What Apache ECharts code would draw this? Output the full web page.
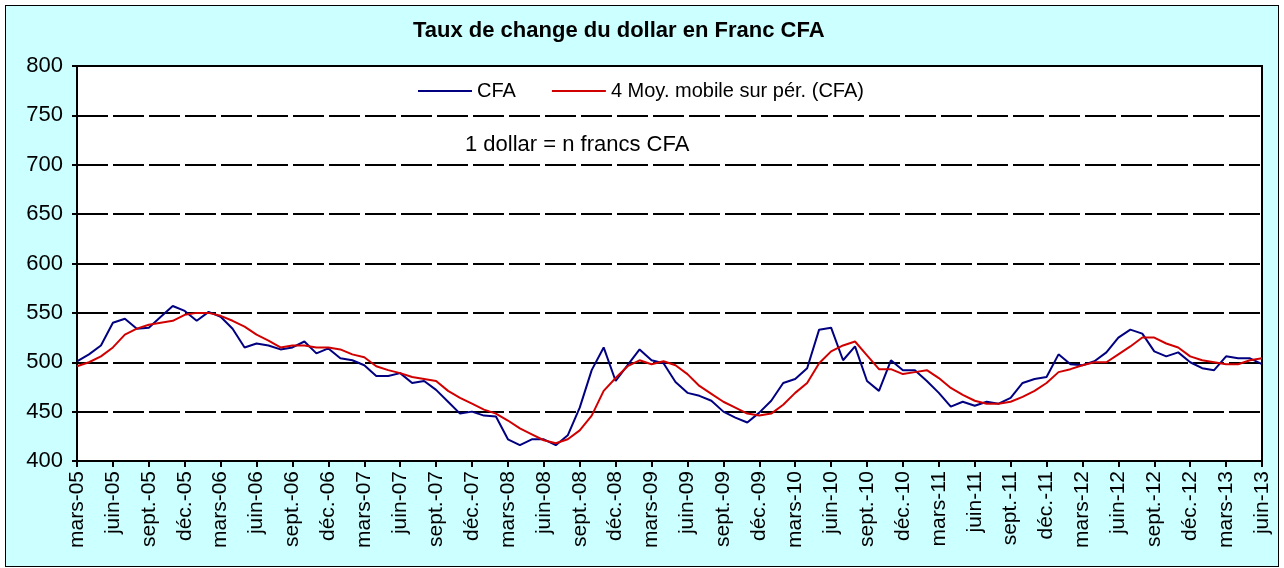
<!DOCTYPE html>
<html>
<head>
<meta charset="utf-8">
<title>Taux de change du dollar en Franc CFA</title>
<script src="https://cdn.jsdelivr.net/npm/echarts@6/dist/echarts.min.js"></script>
<style>
  html, body { margin: 0; padding: 0; background: #fff; }
  #frame {
    position: absolute; left: 5px; top: 5px;
    width: 1272px; height: 560px;
    border: 1px solid #000; background: #ccffff;
  }
  #chart { position: absolute; left: 0; top: 0; width: 1284px; height: 568px; }
</style>
</head>
<body>
<div id="frame"></div>
<div id="chart"></div>
<script>
// mois affichés sur l'axe (un libellé par trimestre)
const monthNames = ['janv.', 'févr.', 'mars', 'avr.', 'mai', 'juin', 'juil.', 'août', 'sept.', 'oct.', 'nov.', 'déc.']
const startYear = 2005
const startMonth = 2 // mars
const nMonths = 100  // mars-05 .. juin-13

// 1 dollar = n francs CFA (mensuel)
const cfa = [
  501, 508, 517, 540, 544, 534, 535, 546, 557, 552,
  542, 551, 546, 534, 515, 519, 517, 513, 515, 521,
  509, 514, 504, 502, 497, 486, 486, 489, 479, 481,
  472, 460, 448, 450, 446, 445, 422, 416, 422, 422,
  416, 426, 454, 492, 515, 481, 497, 513, 502, 499,
  480, 469, 466, 461, 450, 444, 439, 449, 461, 479,
  483, 494, 533, 535, 502, 516, 481, 471, 502, 492,
  492, 481, 469, 455, 460, 456, 460, 458, 464, 479,
  483, 485, 508, 498, 497, 501, 510, 525, 533, 529,
  511, 506, 510, 500, 494, 492, 506, 504, 504, 498
]

// moyenne mobile sur 4 périodes
const movingAvg = [
  496, 500, 506, 515, 528, 534, 538, 540, 542, 548,
  550, 550, 547, 542, 536, 528, 522, 515, 517, 517,
  515, 515, 513, 508, 505, 496, 492, 489, 485, 483,
  481, 471, 464, 458, 452, 448, 441, 433, 427, 421,
  418, 422, 431, 446, 471, 484, 496, 502, 498, 501,
  497, 488, 476, 468, 460, 454, 448, 446, 448, 457,
  469, 479, 499, 511, 517, 521, 507, 493, 493, 488,
  490, 492, 484, 474, 467, 461, 458, 458, 460, 465,
  471, 479, 490, 493, 497, 500, 500, 508, 516, 525,
  525, 519, 515, 506, 502, 500, 498, 498, 502, 504
]

const categories = []
for (let i = 0; i < nMonths; i++) {
  const m = (startMonth + i) % 12
  const y = startYear + Math.floor((startMonth + i) / 12)
  categories.push(monthNames[m] + '-' + String(y).slice(2))
}

const font = 'Liberation Sans, Arial, sans-serif'
const chart = echarts.init(document.getElementById('chart'))

chart.setOption({
  backgroundColor: 'transparent',
  animation: false,
  textStyle: { fontFamily: font, color: '#000' },
  title: {
    text: 'Taux de change du dollar en Franc CFA',
    left: 413,
    top: 20,
    padding: 0,
    textStyle: { fontFamily: font, fontSize: 22, fontWeight: 'bold', color: '#000' }
  },
  legend: {
    data: ['CFA', '4 Moy. mobile sur pér. (CFA)'],
    left: 418,
    top: 81,
    padding: 0,
    icon: 'rect',
    itemWidth: 54,
    itemHeight: 2,
    itemGap: 36,
    textStyle: { fontFamily: font, fontSize: 20, color: '#000' }
  },
  graphic: [{
    type: 'text',
    left: 465,
    top: 134,
    style: { text: '1 dollar = n francs CFA', font: '22px ' + font, fill: '#000' }
  }],
  grid: {
    left: 77, right: 22, top: 66, bottom: 107,
    show: true,
    backgroundColor: '#fff',
    borderColor: '#000',
    borderWidth: 2
  },
  xAxis: {
    type: 'category',
    data: categories,
    boundaryGap: false,
    axisLine: { lineStyle: { color: '#000', width: 2 } },
    axisTick: { interval: 2, length: 6, lineStyle: { color: '#000', width: 2 } },
    axisLabel: { interval: 2, rotate: 90, fontSize: 21, color: '#000', margin: 10 },
    splitLine: { show: false }
  },
  yAxis: {
    type: 'value',
    min: 400,
    max: 800,
    interval: 50,
    axisLine: { show: true, lineStyle: { color: '#000', width: 2 } },
    axisTick: { show: true, length: 5, lineStyle: { color: '#000', width: 2 } },
    axisLabel: { fontSize: 22, color: '#000', margin: 14 },
    splitLine: { lineStyle: { color: '#000', width: 2, type: [31, 5] } }
  },
  series: [
    {
      name: 'CFA',
      type: 'line',
      data: cfa,
      symbol: 'none',
      lineStyle: { color: '#000080', width: 2 },
      itemStyle: { color: '#000080' }
    },
    {
      name: '4 Moy. mobile sur pér. (CFA)',
      type: 'line',
      data: movingAvg,
      symbol: 'none',
      lineStyle: { color: '#d00000', width: 2 },
      itemStyle: { color: '#d00000' }
    }
  ]
})
</script>
</body>
</html>
